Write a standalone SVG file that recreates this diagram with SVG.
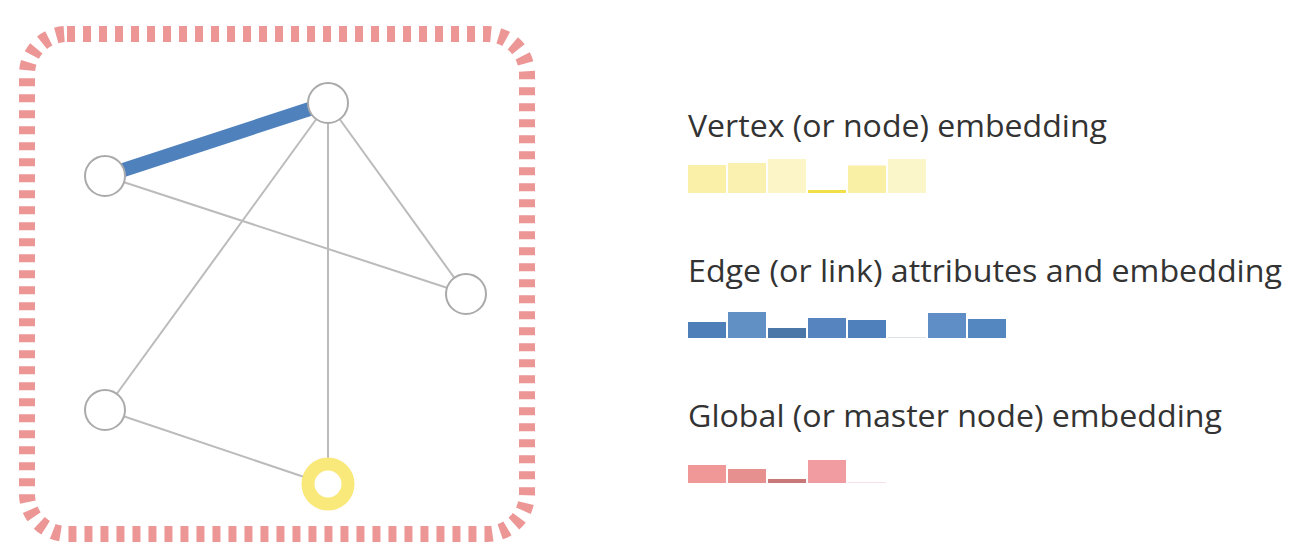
<svg xmlns="http://www.w3.org/2000/svg" width="1307" height="549" viewBox="0 0 1307 549">
<style>
.frame{fill:none;stroke:#ec9696;stroke-width:16;stroke-dasharray:8 8}
.e{stroke:#bbbbbb;stroke-width:2;fill:none}
.eb{stroke:#4f81bd;stroke-width:14;fill:none}
.n{fill:#fff;stroke:#aaaaaa;stroke-width:2}
.ny{fill:#fff;stroke:#f9e97a;stroke-width:13}
.t{font-family:"Open Sans","Noto Sans",sans-serif;font-size:31px;fill:#333}
</style>
<rect id="frame" class="frame" x="27" y="34" width="500" height="500" rx="40" ry="40"/>
<g id="connectors">
<line class="eb" x1="105" y1="176" x2="328" y2="103"/>
<line class="e" x1="105" y1="176" x2="466" y2="294"/>
<line class="e" x1="328" y1="103" x2="466" y2="294"/>
<line class="e" x1="328" y1="103" x2="105" y2="410"/>
<line class="e" x1="328" y1="103" x2="328" y2="485"/>
<line class="e" x1="105" y1="410" x2="328" y2="485"/>
</g>
<g id="node-a"><circle class="n" cx="105" cy="176" r="20"/></g>
<g id="node-b"><circle class="n" cx="328" cy="103" r="20"/></g>
<g id="node-c"><circle class="n" cx="466" cy="294" r="20"/></g>
<g id="node-d"><circle class="n" cx="105" cy="410" r="20"/></g>
<g id="node-e"><circle class="ny" cx="328" cy="484" r="20"/></g>
<g id="legend-vertex">
<text class="t" x="688" y="137" textLength="419" lengthAdjust="spacingAndGlyphs">Vertex (or node) embedding</text>
<rect x="688" y="165" width="38" height="28" fill="#faf0a8"/>
<rect x="728" y="163" width="38" height="30" fill="#faf1b0"/>
<rect x="768" y="159" width="38" height="34" fill="#fbf5c8"/>
<rect x="808" y="190" width="38" height="3" fill="#f1e04a"/>
<rect x="848" y="165.5" width="38" height="27.5" fill="#f9f0a6"/>
<rect x="888" y="159" width="38" height="34" fill="#fbf6c9"/>
</g>
<g id="legend-edge">
<text class="t" x="688" y="282" textLength="594" lengthAdjust="spacingAndGlyphs">Edge (or link) attributes and embedding</text>
<rect x="688" y="322" width="38" height="16" fill="#4f7fb8"/>
<rect x="728" y="312" width="38" height="26" fill="#6190c5"/>
<rect x="768" y="328" width="38" height="10" fill="#4b76a8"/>
<rect x="808" y="318" width="38" height="20" fill="#5584bf"/>
<rect x="848" y="320" width="38" height="18" fill="#4f80bb"/>
<rect x="888" y="337" width="38" height="1" fill="#dde3ea"/>
<rect x="928" y="313" width="38" height="25" fill="#5f8dc6"/>
<rect x="968" y="319" width="38" height="19" fill="#5486c0"/>
</g>
<g id="legend-global">
<text class="t" x="688" y="427" textLength="534" lengthAdjust="spacingAndGlyphs">Global (or master node) embedding</text>
<rect x="688" y="465" width="38" height="18" fill="#f09898"/>
<rect x="728" y="469" width="38" height="14" fill="#e69090"/>
<rect x="768" y="479" width="38" height="4" fill="#c87878"/>
<rect x="808" y="460" width="38" height="23" fill="#f09ca0"/>
<rect x="848" y="482" width="38" height="1" fill="#f8e0e8"/>
</g>
</svg>
